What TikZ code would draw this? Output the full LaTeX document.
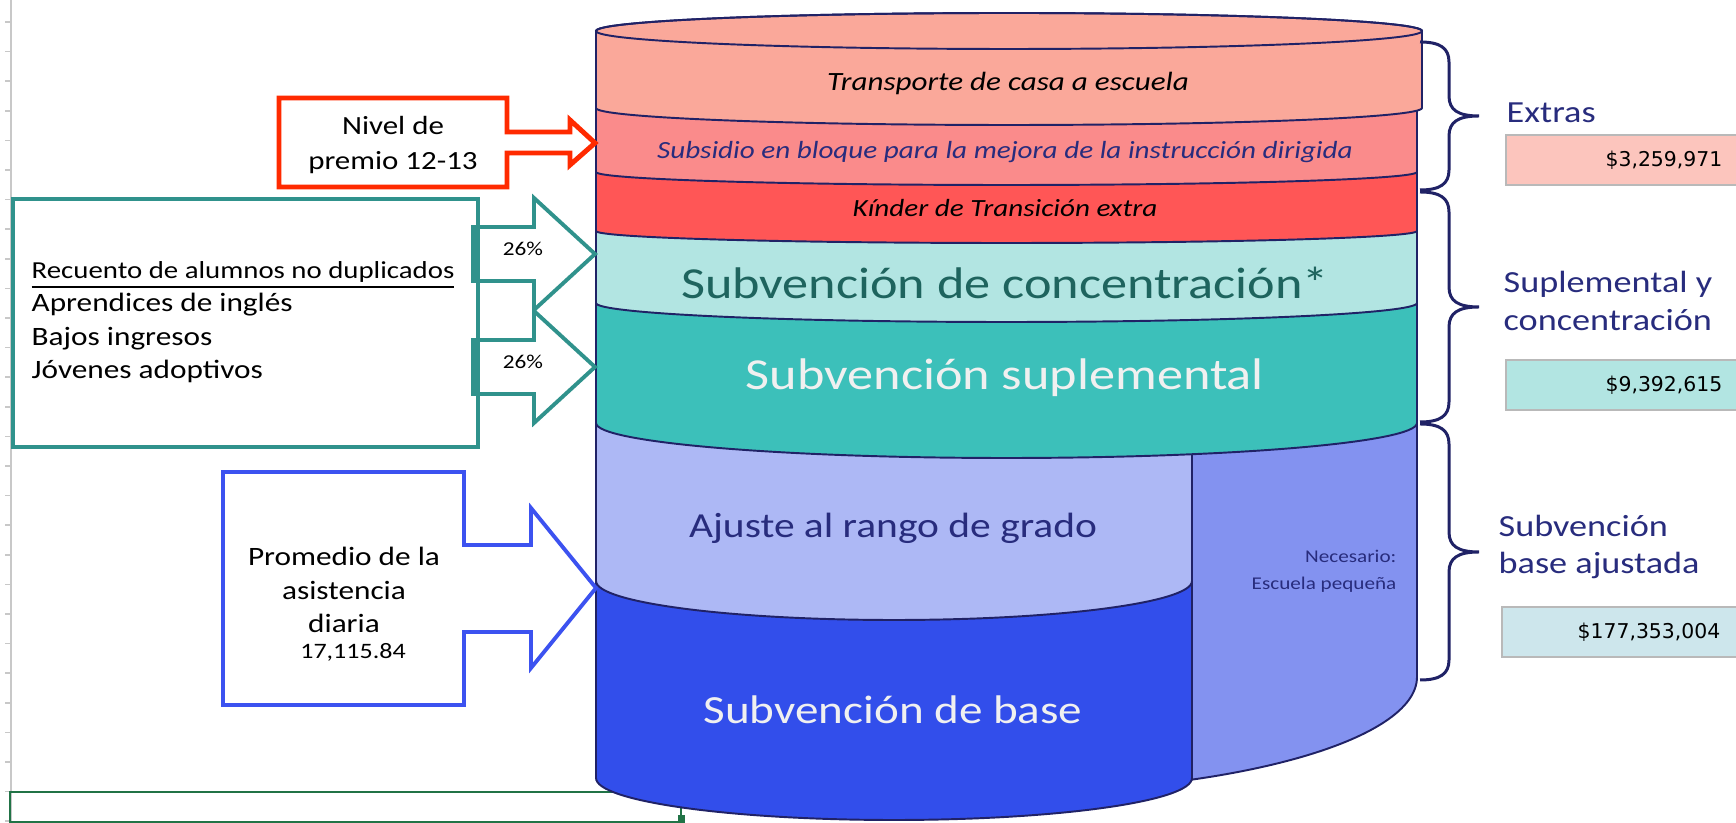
\documentclass[tikz,border=0pt]{standalone}
\usepackage{fontspec}
\setmainfont{Carlito}[FakeStretch=1.18]
\newfontfamily\valfont{DejaVu Sans}
\usepackage{tikz}
\usetikzlibrary{calc}

\definecolor{outline}{RGB}{32,34,102}
\definecolor{navytext}{RGB}{40,44,125}
\definecolor{transp}{RGB}{250,168,154}
\definecolor{subsidio}{RGB}{250,139,139}
\definecolor{kinder}{RGB}{255,86,86}
\definecolor{concen}{RGB}{178,229,226}
\definecolor{suplem}{RGB}{60,192,186}
\definecolor{ajuste}{RGB}{173,184,245}
\definecolor{basefill}{RGB}{50,78,235}
\definecolor{necesario}{RGB}{131,146,240}
\definecolor{redline}{RGB}{255,42,0}
\definecolor{tealline}{RGB}{48,146,140}
\definecolor{blueline}{RGB}{60,82,240}
\definecolor{concentext}{RGB}{30,100,94}
\definecolor{extrasbox}{RGB}{252,197,189}
\definecolor{basebox}{RGB}{205,230,236}
\definecolor{gridgray}{RGB}{200,200,200}
\definecolor{selgreen}{RGB}{33,115,70}

\begin{document}
\begin{tikzpicture}[x=0.1mm, y=-0.1mm,
    cyl/.style={draw=outline, line width=0.55pt},
    bandit/.style={font=\itshape\fontsize{7.03}{10}\selectfont, inner sep=0pt},
    bigtext/.style={font=\fontsize{12.6}{17}\selectfont, inner sep=0pt},
    lefttext/.style={font=\fontsize{7.54}{9.5}\selectfont, inner sep=0pt},
    sidelabel/.style={font=\fontsize{8.73}{10.8}\selectfont, text=navytext, anchor=west, align=left, inner sep=0pt},
    valbox/.style={draw=gray!55, line width=0.45pt},
    valtext/.style={font=\valfont\fontsize{5.8}{7}\selectfont, anchor=east, inner sep=0pt},
    grpbrace/.style={draw=outline, line width=0.85pt},
    callred/.style={draw=redline, line width=1.4pt, fill=white},
    callteal/.style={draw=tealline, line width=1.1pt, fill=white},
    callblue/.style={draw=blueline, line width=1.1pt, fill=white},
    pct/.style={font=\fontsize{5.6}{8}\selectfont, inner sep=0pt}
]
\useasboundingbox (0,0) rectangle (1736,823);

% spreadsheet edge and selection
\draw[gridgray, line width=0.6pt] (11,0) -- (11,823);
\foreach \k in {0,...,27} {
    \draw[gridgray, line width=0.5pt] (5,{22+29.6*\k}) -- (11,{22+29.6*\k});
}
\draw[selgreen, line width=0.8pt] (10,792) rectangle (681,822);
\fill[selgreen] (678,815) rectangle (685,823);

% cylinder, bottom part
\filldraw[cyl, fill=necesario] (596,423) -- (596,677)
    arc[start angle=180, end angle=360, x radius=41.05mm, y radius=11.5mm] -- (1417,423) -- cycle;
\filldraw[cyl, fill=basefill] (596,423) -- (596,778)
    arc[start angle=180, end angle=360, x radius=29.8mm, y radius=4.2mm] -- (1192,423) -- cycle;
\filldraw[cyl, fill=ajuste] (596,423) -- (596,581)
    arc[start angle=180, end angle=360, x radius=29.8mm, y radius=3.9mm] -- (1192,423) -- cycle;

% cylinder, stacked bands
\foreach \ytop/\rtop/\ybot/\rbot/\col in {303/1.9/423/3.5/suplem, 231/1.2/303/1.9/concen,
        172/1.3/231/1.2/kinder, 108/1.7/172/1.3/subsidio} {
    \filldraw[cyl, fill=\col] (596,\ytop) -- (596,\ybot)
        arc[start angle=180, end angle=360, x radius=41.05mm, y radius=\rbot mm]
        -- (1417,\ytop)
        arc[start angle=0, end angle=180, x radius=41.05mm, y radius=\rtop mm] -- cycle;
}
\filldraw[cyl, fill=transp] (596,31) -- (596,108)
    arc[start angle=180, end angle=360, x radius=41.3mm, y radius=1.7mm]
    -- (1422,31) arc[start angle=0, end angle=180, x radius=41.3mm, y radius=1.8mm] -- cycle;
\draw[cyl] (1009,31) ellipse [x radius=41.3mm, y radius=1.8mm];

% band labels
\node[bandit, font=\itshape\fontsize{7.5}{10}\selectfont] (transporte) at (1008,83) {Transporte de casa a escuela};
\node[bandit, text=navytext] (subsidio) at (1005,152) {Subsidio en bloque para la mejora de la instrucción dirigida};
\node[bandit] (kinder) at (1005,208) {Kínder de Transición extra};
\node[bigtext, text=concentext] (concentracion) at (1005,283) {Subvención de concentración*};
\node[bigtext, text=white!94!black] (suplemental) at (1005,378) {Subvención suplemental};
\node[bigtext, font=\fontsize{10}{14}\selectfont, text=navytext] (rango) at (893,528) {Ajuste al rango de grado};
\node[bigtext, font=\fontsize{11.36}{16}\selectfont, text=white!94!black] (base) at (893,710) {Subvención de base};
\node[inner sep=0pt, anchor=east, align=right, text=navytext, font=\fontsize{5.1}{7.7}\selectfont] (pequena) at (1397,571) {Necesario:\\Escuela pequeña};

% Nivel de premio callout
\filldraw[callred] (279,98) -- (507,98) -- (507,132) -- (570,132) -- (570,120) -- (595,143)
    -- (570,165) -- (570,153) -- (507,153) -- (507,187) -- (279,187) -- cycle;
\node[lefttext, align=center, font=\fontsize{7.46}{10}\selectfont] (premio) at (393,145) {Nivel de\\premio 12-13};

% unduplicated count box and arrows
\draw[callteal] (13,199) rectangle (478,447);
\foreach \yc in {254,367} {
    \filldraw[callteal] (473,\yc-27) -- (534,\yc-27) -- (534,\yc-56) -- (595,\yc)
        -- (534,\yc+56) -- (534,\yc+27) -- (473,\yc+27) -- cycle;
    \fill[tealline] (471,\yc-27) rectangle (480,\yc+27);
    \node[pct] (pct\yc) at (523,\yc-5) {26\%};
}
\node[lefttext, anchor=west, align=left] (recuento) at (31,322)
    {{\fontsize{6.95}{9.5}\selectfont\underline{Recuento de alumnos no duplicados}}\\Aprendices de inglés\\Bajos ingresos\\Jóvenes adoptivos};

% attendance callout
\filldraw[callblue] (223,472) -- (464,472) -- (464,545) -- (531,545) -- (531,508) -- (596,588)
    -- (531,668) -- (531,632) -- (464,632) -- (464,705) -- (223,705) -- cycle;
\node[lefttext, align=center] (asistencia) at (344,590) {Promedio de la\\asistencia\\diaria};
\node[lefttext, font=\fontsize{6.27}{9}\selectfont] (ada) at (353,652) {17,115.84};

% braces
\foreach \ya/\yb in {42/190, 192/422, 424/680} {
    \pgfmathsetmacro{\ym}{(\ya+\yb)/2}
    \draw[grpbrace] (1420,\ya) .. controls (1440,\ya) and (1449,\ya+6) .. (1449,\ya+20)
        -- (1449,\ym-20) .. controls (1449,\ym-6) and (1458,\ym) .. (1479,\ym)
        .. controls (1458,\ym) and (1449,\ym+6) .. (1449,\ym+20)
        -- (1449,\yb-20) .. controls (1449,\yb-6) and (1440,\yb) .. (1420,\yb);
}

% group labels and amounts
\node[sidelabel] (extras) at (1506,113) {Extras};
\draw[valbox, fill=extrasbox] (1506,135) rectangle (1745,185);
\node[valtext] (vextras) at (1723,160) {\$3,259,971};

\node[sidelabel] (suplconc) at (1503,301) {Suplemental y\\concentración};
\draw[valbox, fill=concen] (1506,360) rectangle (1745,410);
\node[valtext] (vsupl) at (1723,385) {\$9,392,615};

\node[sidelabel] (baseaj) at (1498,547) {Subvención\\base ajustada};
\draw[valbox, fill=basebox] (1502,607) rectangle (1745,657);
\node[valtext] (vbase) at (1721,632) {\$177,353,004};

\end{tikzpicture}
\end{document}
